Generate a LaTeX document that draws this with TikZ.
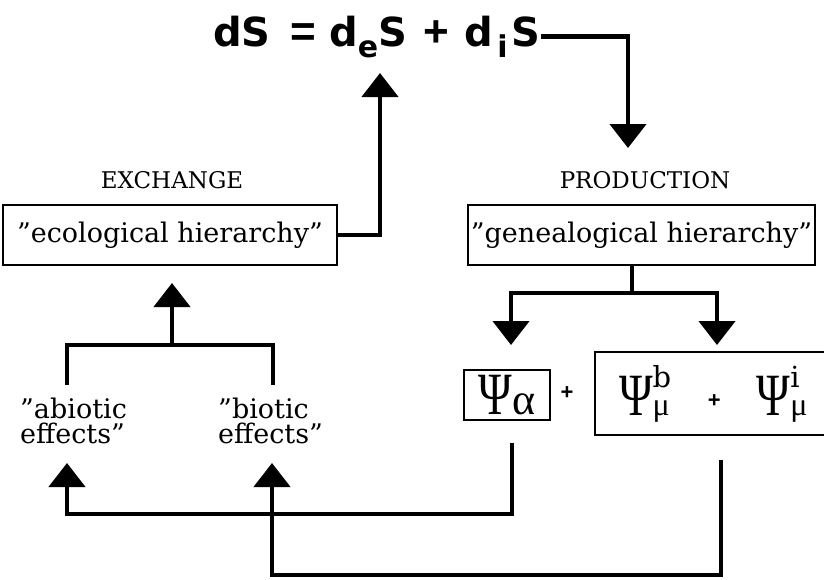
\documentclass[tikz,border=0pt]{standalone}
\usepackage{fontspec}
\usepackage{graphicx}
\setmainfont{DejaVu Serif}
\newfontfamily\eqfont{DejaVu Sans}
\newfontfamily\plusfont{Liberation Sans}
\newfontfamily\grk{Liberation Serif}
\usetikzlibrary{arrows.meta}
\newcommand{\fsz}[1]{\fontsize{#1}{#1}\selectfont}
\newcommand{\bigpsi}{{\grk\fsz{60}\scalebox{0.76}[1]{Ψ}}}
\newcommand{\psiterm}[2]{\bigpsi\makebox[0pt][l]{\raisebox{28pt}{\fsz{29}#1}}{\grk\fsz{32}#2}}
\newcommand{\smallplus}{\raisebox{8pt}{\plusfont\bfseries\fsz{22}+}}
\newcommand{\eqop}[1]{{\plusfont\bfseries\fsz{44}#1}}
\begin{document}
\begin{tikzpicture}[x=1pt,y=-1pt,
  conn/.style={line width=4.5pt, line join=miter},
  arr/.style={conn, -{Triangle[width=36pt,length=24pt]}},
  box/.style={draw, line width=2pt, inner sep=0pt},
  lbl/.style={font=\fsz{27}, inner sep=0pt},
  head/.style={font=\fsz{23}, inner sep=0pt, anchor=base}]
\useasboundingbox (0,0) rectangle (824,579);
\fill[white] (0,0) rectangle (824,579);
\clip (0,0) rectangle (824,579);

% equation
\node[anchor=base west, inner sep=0pt, font=\eqfont\bfseries\fsz{40}] (eq) at (213,46)
  {dS\hspace{20pt}\eqop{=}\hspace{13pt}d\raisebox{-11pt}{\fsz{30}e}S\hspace{16pt}\eqop{+}\hspace{16pt}d\hspace{4pt}\raisebox{-11pt}{\fsz{30}i}\hspace{4pt}S};

% headings
\node[head] (exch) at (172,188) {EXCHANGE};
\node[head] (prod) at (645,188) {PRODUCTION};

% hierarchy boxes
\node[box, lbl, minimum width=334pt, minimum height=60pt] (eco) at (170,235) {"ecological hierarchy"};
\node[box, lbl, minimum width=347pt, minimum height=60pt] (gen) at (641.5,235) {"genealogical hierarchy"};

% psi boxes
\node[box, minimum width=86pt, minimum height=50pt] (alpha) at (507,395)
  {\bigpsi{\grk\fsz{44}α}};
\node[inner sep=0pt, font=\plusfont\bfseries\fsz{22}] (plus) at (567,393) {+};
\node[box, anchor=west, minimum height=83pt, text width=230pt, inner xsep=24pt, inner ysep=0pt, align=left] (mu) at (594,393.5)
  {\psiterm{b}{μ}\hspace{38pt}\smallplus\hspace{36pt}\psiterm{i}{μ}};

% effects labels
\node[lbl, anchor=north west, align=left, font=\fontsize{27}{25}\selectfont] (abiotic) at (20,398) {"abiotic\\effects"};
\node[lbl, anchor=north west, align=left, font=\fontsize{27}{25}\selectfont] (biotic) at (218,398) {"biotic\\effects"};

% coordinates
\coordinate (prodin) at (628,148);
\coordinate (exin) at (380,73);
\coordinate (gj) at (632,293);
\coordinate (alphain) at (511,345);
\coordinate (muin) at (717,345);
\coordinate (tj) at (172,345);
\coordinate (ecoin) at (172,283);
\coordinate (abtop) at (67,385);
\coordinate (btop) at (273,385);
\coordinate (aout) at (512,443);
\coordinate (mout) at (721,460);
\coordinate (abin) at (67,463);
\coordinate (bin) at (272,463);
\coordinate (lowA) at (0,514);
\coordinate (lowB) at (0,575);

% connectors
\draw[arr] (eq.east) -| (prodin);
\draw[arr] (eco.east) -| (exin);
\draw[conn] (gen.south -| gj) -- (gj);
\draw[arr] (gj) -| (alphain);
\draw[arr] (gj) -| (muin);
\draw[arr] (tj) -- (ecoin);
\draw[conn] (abtop) |- (tj) -| (btop);
\draw[arr] (aout) -- (aout |- lowA) -| (abin);
\draw[arr] (mout) -- (mout |- lowB) -| (bin);
\end{tikzpicture}
\end{document}
